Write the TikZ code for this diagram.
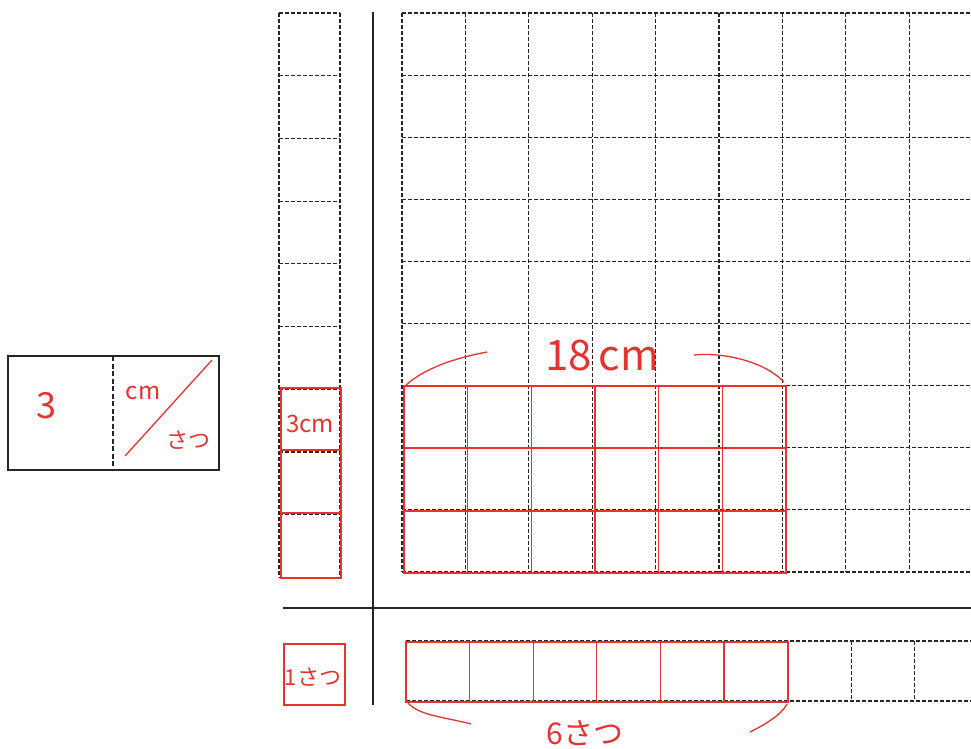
\documentclass[tikz,border=0pt]{standalone}
\usepackage{fontspec}
\newfontfamily\cjk{Noto Sans CJK JP}
\usetikzlibrary{positioning}
\definecolor{pen}{HTML}{E8322F}
\definecolor{ink}{HTML}{262626}

\begin{document}
\begin{tikzpicture}[
  x=1pt,y=-1pt,
  grid/.style={draw=ink, dash pattern=on 4pt off 2pt, line width=1.2pt},
  rule/.style={draw=ink, line width=1.6pt},
  redline/.style={draw=pen, line width=1.3pt},
  hand/.style={text=pen, inner sep=0pt, font=\cjk\fontsize{20}{22}\selectfont},
]
\useasboundingbox (0,0) rectangle (971,748);
\clip (0,0) rectangle (971,748);

% unit box on the left
\draw[draw=ink, line width=1.5pt] (8,356) rectangle (219,470);
\draw[draw=ink, dash pattern=on 5pt off 2.5pt, line width=1.8pt] (113,356) -- (113,470);
\node[hand, font=\cjk\fontsize{36}{38}\selectfont] (three) at (46,406) {3};
\node[hand, font=\cjk\fontsize{24}{26}\selectfont] (unitcm) at (143,393) {cm};
\node[hand, font=\cjk\fontsize{22}{24}\selectfont] (unitsatsu) at (188,440) {さつ};
\draw[redline] (125,456) -- (212,360);

% left column (cm)
\foreach \i in {0,...,9}
  \draw[grid] (279,{13+62.7*\i}) -- (340,{13+62.7*\i});
\draw[grid] (279,13) -- (279,577);
\draw[grid] (340,13) -- (340,577);

% main grid
\foreach \i in {0,...,9}
  \draw[grid] (402,{13+62.1*\i}) -- (980,{13+62.1*\i});
\foreach \j in {0,...,9}
  \draw[grid] ({402+63.4*\j},13) -- ({402+63.4*\j},572);

% axes
\draw[rule] (373,12) -- (373,705);
\draw[rule] (283,608) -- (980,608);

% bottom strip (satsu)
\draw[grid] (406,641) -- (980,641);
\draw[grid] (406,701) -- (980,701);
\foreach \j in {0,...,9}
  \draw[grid] ({406+63.6*\j},641) -- ({406+63.6*\j},701);
\draw[grid] (284,644) rectangle (345,705);

% red: three cells of the column
\draw[redline] (281,388) rectangle (341,578);
\draw[redline] (281,450) -- (341,450);
\draw[redline] (281,513) -- (341,513);
\node[hand, font=\cjk\fontsize{24}{26}\selectfont] (threecm) at (310,424) {3cm};

% red: 6 x 3 block
\draw[redline] (404,386) rectangle (786,573);
\foreach \j in {1,...,5}
  \draw[redline] ({404+63.7*\j},386) -- ({404+63.7*\j},573);
\draw[redline] (404,448) -- (786,448);
\draw[redline] (404,511) -- (786,511);
\node[hand, font=\cjk\fontsize{42}{44}\selectfont] (eighteen) at (602,356) {18\,cm};
\draw[redline] (406,385) .. controls (425,368) and (455,358) .. (487,352);
\draw[redline] (694,355) .. controls (725,352) and (765,362) .. (784,382);

% red: six cells of the strip
\draw[redline] (406,642) rectangle (788,702);
\foreach \j in {1,...,5}
  \draw[redline] ({406+63.6*\j},642) -- ({406+63.6*\j},702);
\draw[redline] (284,644) rectangle (345,705);
\node[hand, font=\cjk\fontsize{22}{24}\selectfont] (onesatsu) at (313,677) {1さつ};
\node[hand, font=\cjk\fontsize{30}{32}\selectfont] (sixsatsu) at (585,733) {6さつ};
\draw[redline] (408,703) .. controls (420,716) and (445,717) .. (471,724);
\draw[redline] (750,732) .. controls (766,724) and (781,715) .. (787,704);

\end{tikzpicture}
\end{document}
